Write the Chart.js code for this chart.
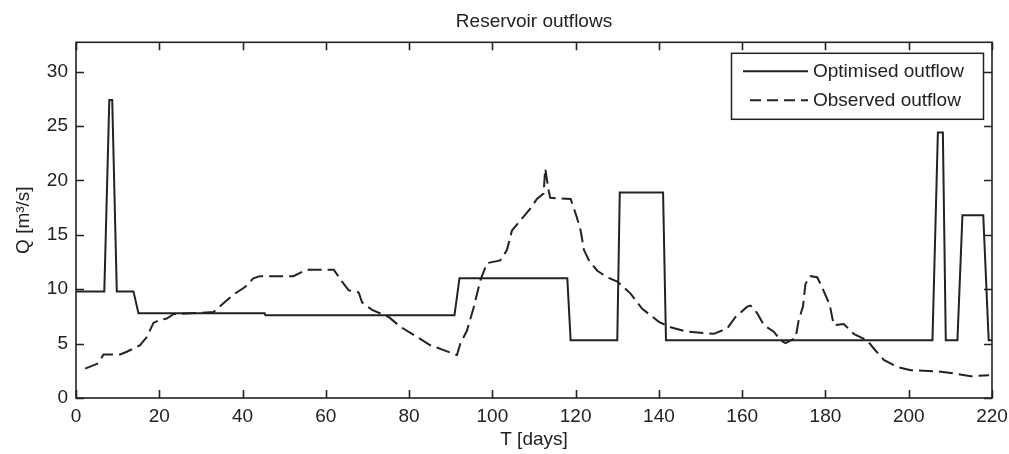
<!DOCTYPE html>
<html>
<head>
<meta charset="utf-8">
<title>Reservoir outflows</title>
<script src="https://cdn.jsdelivr.net/npm/chart.js@4.4.1/dist/chart.umd.min.js"></script>
<style>
  html, body { margin: 0; padding: 0; background: #fff; }
  #wrap { width: 1009px; height: 454px; }
</style>
</head>
<body>
<div id="wrap"><canvas id="outflowChart"></canvas></div>
<script>
// values (day, m3/s)
const optimisedDays = [0, 6.8, 8.0, 8.7, 9.8, 13.8, 15.0, 45.3, 45.5, 90.9, 92.1, 118.0, 118.8, 130.0, 130.6,
  141.0, 141.7, 205.7, 207.0, 208.2, 208.9, 211.7, 212.9, 217.9, 219.2, 220];
const optimisedFlow = [9.8, 9.8, 27.4, 27.4, 9.8, 9.8, 7.8, 7.8, 7.6, 7.6, 11.0, 11.0, 5.3, 5.3, 18.9,
  18.9, 5.3, 5.3, 24.4, 24.4, 5.3, 5.3, 16.8, 16.8, 5.3, 5.3];

const observedDays = [2.2, 5.4, 6.6, 10.6, 12.2, 15.4, 17.0, 18.6, 20.2, 21.8, 23.4, 33.0, 35.4, 37.8, 40.6,
  42.6, 44.2, 52.2, 55.4, 59.4, 61.9, 63.9, 65.5, 67.9, 68.7, 71.1, 75.1, 77.9, 81.1, 85.1,
  88.3, 91.5, 92.3, 93.9, 95.5, 97.1, 98.7, 101.9, 103.5, 104.7, 106.7, 109.1, 110.7, 112.3, 112.7,
  113.5, 113.9, 118.8, 120.3, 121.2, 122.0, 123.2, 125.2, 127.6, 130.0, 133.2, 136.0, 140.0, 142.8,
  146.8, 153.2, 156.4, 158.4, 161.2, 162.0, 163.6, 165.2, 167.6, 169.2, 170.4, 172.8, 173.6, 174.6,
  175.2, 176.4, 178.0, 178.8, 181.0, 182.0, 184.4, 186.8, 190.0, 191.6, 194.0, 197.3, 200.5, 206.9,
  210.9, 214.9, 219.3];
const observedFlow = [2.7, 3.2, 4.0, 4.0, 4.25, 4.85, 5.6, 6.9, 7.2, 7.3, 7.7, 7.9, 8.7, 9.5, 10.2,
  11.0, 11.2, 11.2, 11.8, 11.8, 11.8, 10.7, 9.9, 9.7, 8.8, 8.1, 7.45, 6.55, 5.8, 4.85,
  4.4, 3.95, 5.0, 6.2, 8.3, 10.8, 12.4, 12.65, 13.6, 15.4, 16.3, 17.4, 18.3, 18.8, 21.1,
  19.1, 18.4, 18.3, 16.6, 15.4, 13.6, 12.65, 11.7, 11.1, 10.7, 9.6, 8.2, 7.0, 6.5,
  6.1, 5.9, 6.4, 7.45, 8.4, 8.5, 7.8, 6.7, 6.1, 5.3, 5.05, 5.5, 7.2, 8.4,
  10.5, 11.2, 11.1, 10.5, 8.6, 6.7, 6.8, 5.9, 5.3, 4.55, 3.5, 2.85, 2.55, 2.45,
  2.25, 2.0, 2.1];

const xTicks = [0, 20, 40, 60, 80, 100, 120, 140, 160, 180, 200, 220];
const yTicks = [0, 5, 10, 15, 20, 25, 30];
const seriesLabels = ['Optimised outflow', 'Observed outflow'];

const FONT = { family: '"Liberation Sans", Arial, sans-serif', size: 19 };
const INK = '#222';

const toPoints = (xs, ys) => xs.map((x, i) => ({ x: x, y: ys[i] }));

// matlab style box with inward ticks on all four sides
const frame = {
  id: 'frame',
  afterDatasetsDraw(chart) {
    const { ctx, chartArea: a, scales } = chart;
    const len = 8;
    ctx.save();
    ctx.strokeStyle = INK;
    ctx.lineWidth = 1.6;
    ctx.beginPath();
    scales.x.ticks.forEach(t => {
      const px = Math.round(scales.x.getPixelForValue(t.value)) + 0.5;
      ctx.moveTo(px, a.bottom); ctx.lineTo(px, a.bottom - len);
      ctx.moveTo(px, a.top); ctx.lineTo(px, a.top + len);
    });
    scales.y.ticks.forEach(t => {
      const py = Math.round(scales.y.getPixelForValue(t.value)) + 0.5;
      ctx.moveTo(a.left, py); ctx.lineTo(a.left + len, py);
      ctx.moveTo(a.right, py); ctx.lineTo(a.right - len, py);
    });
    ctx.stroke();
    ctx.strokeRect(a.left, a.top, a.right - a.left, a.bottom - a.top);
    ctx.restore();
  }
};

// boxed legend in the top right corner
const boxLegend = {
  id: 'boxLegend',
  afterDraw(chart) {
    const { ctx, chartArea: a } = chart;
    const w = 252, h = 66;
    const left = a.right - 8.5 - w, top = a.top + 11;
    ctx.save();
    ctx.fillStyle = '#fff';
    ctx.fillRect(left, top, w, h);
    ctx.strokeStyle = INK;
    ctx.lineWidth = 1.5;
    ctx.strokeRect(left, top, w, h);
    ctx.font = FONT.size + 'px ' + FONT.family;
    ctx.textBaseline = 'middle';
    ctx.fillStyle = INK;
    chart.data.datasets.forEach((ds, i) => {
      const y = top + 18 + i * 29;
      ctx.beginPath();
      ctx.setLineDash(ds.borderDash ? [11, 6] : []);
      ctx.lineWidth = ds.borderWidth;
      ctx.moveTo(ds.borderDash ? left + 18.5 : left + 11.5, y);
      ctx.lineTo(left + 76.5, y);
      ctx.stroke();
      ctx.setLineDash([]);
      ctx.fillText(ds.label, left + 81.5, y);
    });
    ctx.restore();
  }
};

new Chart(document.getElementById('outflowChart'), {
  type: 'line',
  data: {
    datasets: [
      {
        label: seriesLabels[0],
        data: toPoints(optimisedDays, optimisedFlow),
        borderColor: INK,
        borderWidth: 2,
        pointRadius: 0,
        tension: 0
      },
      {
        label: seriesLabels[1],
        data: toPoints(observedDays, observedFlow),
        borderColor: INK,
        borderWidth: 2,
        borderDash: [14, 6],
        pointRadius: 0,
        tension: 0
      }
    ]
  },
  options: {
    responsive: true,
    maintainAspectRatio: false,
    animation: false,
    events: [],
    layout: { padding: { left: 0, right: 17, top: 0, bottom: 0 } },
    plugins: {
      legend: { display: false },
      tooltip: { enabled: false },
      title: {
        display: true,
        text: 'Reservoir outflows',
        fullSize: false,
        color: INK,
        font: { ...FONT, weight: 'normal' },
        padding: { top: 10, bottom: 9.5 }
      }
    },
    scales: {
      x: {
        type: 'linear',
        min: 0,
        max: 220,
        afterBuildTicks: s => { s.ticks = xTicks.map(v => ({ value: v })); },
        afterFit: s => { s.height = 56; s.paddingLeft = 0; s.paddingRight = 0; },
        grid: { display: false, drawTicks: false },
        border: { display: false },
        ticks: { color: INK, font: FONT, padding: 7, maxRotation: 0 },
        title: {
          display: true,
          text: 'T [days]',
          color: INK,
          font: FONT,
          padding: { top: 0, bottom: 2.5 }
        }
      },
      y: {
        type: 'linear',
        min: 0,
        max: 32.7,
        afterBuildTicks: s => { s.ticks = yTicks.map(v => ({ value: v })); },
        afterFit: s => { s.width = 76; s.paddingTop = 0; s.paddingBottom = 0; },
        grid: { display: false, drawTicks: false },
        border: { display: false },
        ticks: { color: INK, font: FONT, padding: 8 },
        title: {
          display: true,
          text: 'Q [m³/s]',
          color: INK,
          font: FONT,
          padding: { top: 12, bottom: 0 }
        }
      }
    }
  },
  plugins: [frame, boxLegend]
});
</script>
</body>
</html>
